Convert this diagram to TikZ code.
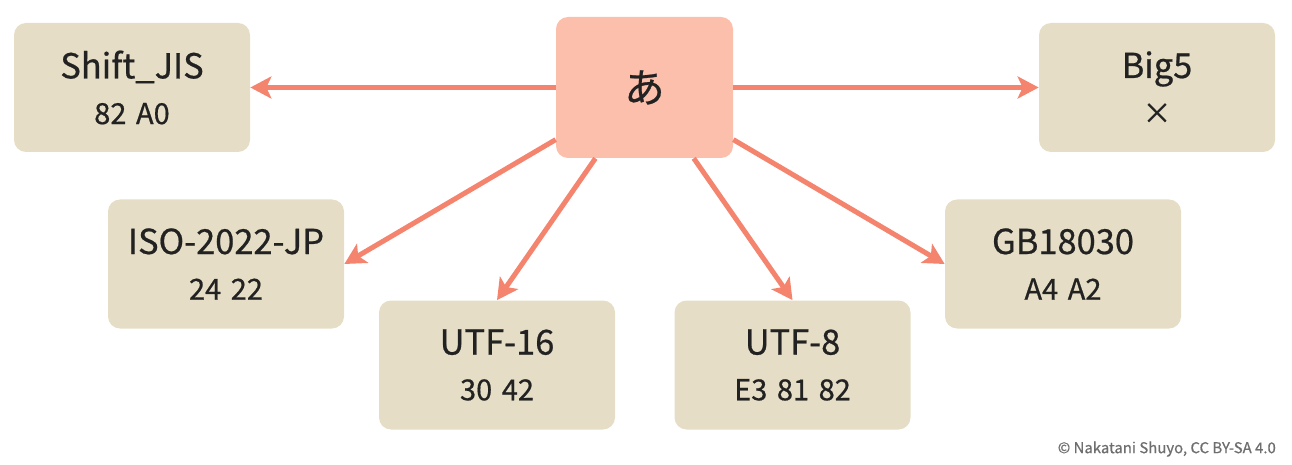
\documentclass[tikz,border=0pt]{standalone}
\usepackage{fontspec}
\setmainfont{Noto Sans CJK JP}[UprightFeatures={FakeBold=0.6}]
\usetikzlibrary{positioning}
\usetikzlibrary{arrows.meta}
\definecolor{encfill}{HTML}{E5DDC5}
\definecolor{charfill}{HTML}{FBBFAB}
\definecolor{convline}{HTML}{F4846E}
\definecolor{ink}{HTML}{222222}
\newcommand{\bytes}[1]{{\fontsize{16.5}{26}\selectfont\spaceskip=0.33em #1}}

\begin{document}
\begin{tikzpicture}[
    encbox/.style={fill=encfill, rounded corners=0.24cm, minimum width=4.72cm,
      minimum height=2.58cm, align=center, text=ink, font=\fontsize{19.6}{26}\selectfont},
    charbox/.style={fill=charfill, rounded corners=0.24cm, minimum width=3.54cm,
      minimum height=2.82cm, text=ink, font=\fontsize{23}{26}\selectfont},
    conv/.style={-{Stealth[length=0.42cm,width=0.44cm,inset=0.1cm]}, convline, line width=0.1cm}]
    \useasboundingbox (0,0) rectangle (25.84,-9.3);
    \node [charbox] (chr) at (12.89,-1.75) {あ};
    \node [encbox] (sjis) at (2.64,-1.75) {Shift\_JIS\\\bytes{82 A0}};
    \node [encbox] (big5) at (23.14,-1.75) {Big5\\\bytes{×}};
    \node [encbox] (iso) at (4.52,-5.28) {ISO-2022-JP\\\bytes{24 22}};
    \node [encbox] (utf16) at (9.94,-7.3) {UTF-16\\\bytes{30 42}};
    \node [encbox] (utf8) at (15.85,-7.3) {UTF-8\\\bytes{E3 81 82}};
    \node [encbox] (gb) at (21.26,-5.28) {GB18030\\\bytes{A4 A2}};
    \node [anchor=east, text=black!57, font=\fontsize{8.5}{10}\selectfont] (credit) at (25.64,-8.98) {© Nakatani Shuyo, CC BY-SA 4.0};
    \draw [conv] (chr)--(sjis);
    \draw [conv] (chr)--(big5);
    \draw [conv] (chr)--(iso.east);
    \draw [conv] (chr)--(utf16.north);
    \draw [conv] (chr)--(utf8.north);
    \draw [conv] (chr)--(gb.west);
  \end{tikzpicture}
\end{document}
